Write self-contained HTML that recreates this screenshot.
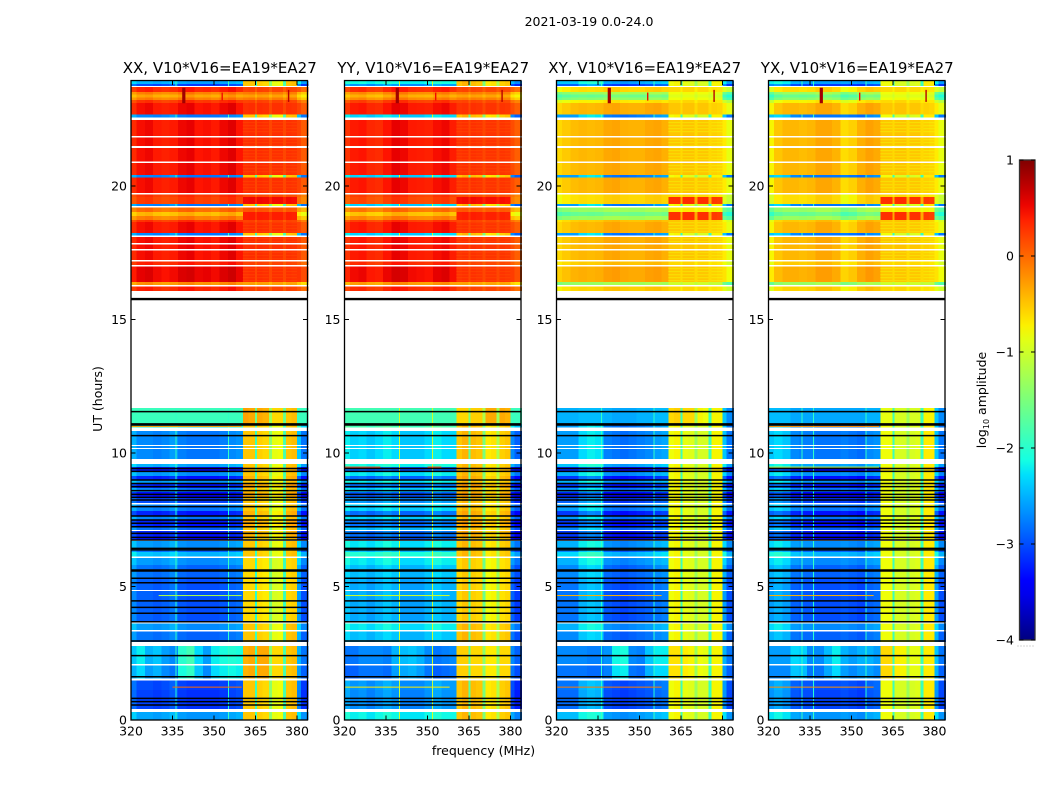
<!DOCTYPE html>
<html>
<head>
<meta charset="utf-8">
<title>2021-03-19 0.0-24.0</title>
<style>
html,body{margin:0;padding:0;background:#fff;}
svg{display:block;font-family:"DejaVu Sans","Liberation Sans",sans-serif;fill:#000;}
</style>
</head>
<body>
<svg id="figure" xmlns="http://www.w3.org/2000/svg" width="1050" height="800" viewBox="0 0 1050 800">
<defs><linearGradient id="jetGradient" x1="0" y1="1" x2="0" y2="0"></linearGradient></defs>
<text x="589" y="26" text-anchor="middle" font-size="12.5">2021-03-19 0.0-24.0</text>
<text x="483.5" y="755" text-anchor="middle" font-size="12.5">frequency (MHz)</text>
<text transform="translate(102,399) rotate(-90)" text-anchor="middle" font-size="12.5">UT (hours)</text>
<text transform="translate(986,400) rotate(-90)" text-anchor="middle" font-size="12.5">log<tspan font-size="8" dy="3">10</tspan><tspan dy="-3"> amplitude</tspan></text>
</svg>
<script>
// Channel bin edges (MHz)
const freqEdges = [320,322,325,328,331,334,337,340,343,346,349,352,355,358,360.4,362.5,364.8,365.5,367.5,369.8,370.9,373,375,376,378,380,381.5,384];
// Time row edges (UT hours, top to bottom)
const rowEdgeHours = [
 23.93,23.82,23.75,23.71,23.52,23.43,23.31,23.22,23.11,22.68,
 22.57,22.47,21.87,21.82,21.50,21.42,20.92,20.86,20.41,20.32,
 19.74,19.68,19.59,19.33,19.25,19.19,19.03,18.88,18.73,18.65,
 18.24,18.15,18.09,17.87,17.81,17.64,17.58,17.23,17.17,17.04,
 16.99,16.40,16.29,16.24,16.07,11.69,11.09,10.96,10.82,10.30,
 10.26,10.19,10.15,9.78,9.59,9.48,9.29,9.14,8.99,8.84,
 8.69,8.54,8.35,8.13,8.07,7.83,7.64,7.49,7.23,7.12,
 7.08,6.85,6.74,6.70,6.44,6.29,6.12,6.07,5.81,5.32,
 4.87,4.83,4.46,4.01,3.67,3.61,3.37,3.31,2.92,2.77,
 2.10,2.04,1.55,1.48,1.12,0.41,0.30,0];
// Row state: D day, N night, B night with bright patches, F flat band, W flagged (no data)
const rowStates = [
 "N","N","W","D","D","D","D","D","D","N",
 "W","D","W","D","W","D","W","D","N","D",
 "W","D","D","N","W","D","D","D","D","D",
 "N","W","D","W","D","W","D","W","D","W",
 "D","D","W","D","W","F","N","W","N","W",
 "N","W","N","W","N","N","N","N","N","N",
 "N","N","N","W","N","N","N","N","N","W",
 "N","N","W","N","N","N","W","N","N","N",
 "W","N","N","N","W","N","W","N","W","B",
 "W","B","W","N","N","W","N"];
// Per-row log-amplitude shift: parallel-hand left band / right band, cross-hand left / right
const parallelLeftShift = [
 .2,-.3,0,-.1,-.6,-.8,-.6,-.2,0,0,
 0,0,0,0,0,0,0,0,0,0,
 0,-.2,-.25,0,0,-.5,-.9,-.6,-.2,0,
 0,0,0,0,0,0,0,0,-.1,0,
 .08,-.7,0,-.1,0,0,.5,0,0,0,
 0,0,0,0,.2,-.6,.1,-.5,.1,-.5,
 0,-.6,-.3,0,0,-.5,0,-.5,-.1,0,
 -.5,-.6,0,.1,-.1,.3,0,.1,-.1,-.2,
 0,-.2,-.2,-.2,0,.1,0,-.1,0,0,
 0,-.1,0,-.3,-.35,0,.15];
const parallelRightShift = [
 0,0,0,-.1,-.4,-.6,-.4,-.1,0,0,
 0,0,0,0,0,0,0,0,0,0,
 0,-.15,.2,0,0,-.2,.1,.1,-.1,0,
 0,0,0,0,0,0,0,0,-.1,0,
 0,-.6,0,-.1,0,0,0,0,0,0,
 0,0,0,0,0,.1,0,.1,0,.2,
 0,.15,0,0,0,.1,0,.15,0,0,
 .1,0,0,0,0,0,0,-.1,-.1,-.1,
 0,-.1,-.1,-.1,0,0,0,0,0,0,
 0,0,0,0,0,0,0];
const crossLeftShift = [
 .2,-.3,0,-.2,-.9,-1.2,-1,-.3,0,0,
 0,0,0,0,0,0,0,0,0,0,
 0,-.2,-.2,0,0,-.9,-1.2,-.9,-.1,0,
 0,0,0,0,0,0,0,0,-.1,0,
 .05,-.9,0,-.15,0,0,0,0,0,0,
 0,0,0,0,.2,-.6,.1,-.5,.1,-.5,
 0,-.6,-.3,0,0,-.5,0,-.5,-.1,0,
 -.5,-.6,0,.1,-.1,.3,0,.1,-.1,-.2,
 0,-.2,-.2,-.2,0,.1,0,-.1,0,0,
 0,-.1,0,-.2,-.25,0,.15];
const crossRightShift = [
 0,0,0,-.1,-.3,-.4,-.3,-.1,0,0,
 0,0,0,0,0,0,0,0,0,0,
 0,-.1,.8,0,0,-.2,.8,.8,0,0,
 0,0,0,0,0,0,0,0,-.1,0,
 0,-.5,0,-.1,0,0,0,0,0,0,
 0,0,0,0,0,.1,0,0,0,0,
 0,0,0,0,0,0,0,0,0,0,
 0,0,0,0,0,0,0,0,0,0,
 0,0,0,0,0,0,0,0,0,0,
 0,0,0,0,0,0,0];
// Channel profiles, log10 amplitude, one value per channel bin
const xxDay = [.33,.48,.52,.42,.38,.42,.52,.55,.45,.47,.42,.52,.58,.45,.30,.32,.18,.32,.30,.18,.30,.30,.18,.30,.28,.20,.08];
const xxNight = [-2.5,-2.7,-2.7,-2.75,-2.7,-2.6,-2.75,-2.8,-2.8,-2.8,-2.8,-2.75,-2.7,-2.65,-.5,-.5,-1.9,-.55,-.6,-1.4,-.85,-.8,-1.8,-.5,-.45,-2.4,-2.8];
const xxPatch = [-2.4,-2.2,-2.5,-2.4,-2.6,-2.7,-2.0,-1.85,-2.3,-2.6,-2.2,-2.1,-2.05,-2.1,-.4,-.35,-1.9,-.35,-.35,-1.4,-.6,-.6,-1.8,-.5,-.45,-2.5,-2.8];
const xxFlat = [-1.9,-1.9,-1.9,-1.9,-1.9,-1.9,-1.9,-1.9,-1.9,-1.9,-1.9,-1.9,-1.9,-1.9,-.3,-.35,-1.6,-.35,-.4,-1.3,-.6,-.6,-1.6,-.5,-.45,-1.9,-1.9];
const yyDay = [.28,.42,.45,.35,.32,.45,.55,.52,.42,.40,.38,.48,.52,.40,.28,.30,.18,.30,.28,.18,.28,.28,.18,.28,.26,.15,.05];
const yyNight = [-2.2,-2.35,-2.3,-2.4,-2.3,-2.2,-2.3,-2.4,-2.4,-2.4,-2.3,-2.2,-2.3,-2.3,-.5,-.4,-1.7,-.45,-.5,-1.5,-.7,-.65,-1.2,-.55,-.5,-2.7,-2.9];
const yyPatch = [-2.8,-2.8,-2.7,-2.7,-2.7,-2.75,-2.5,-2.45,-2.4,-2.5,-2.7,-2.8,-2.75,-2.7,-.55,-.55,-1.7,-.6,-.6,-1.4,-.7,-.7,-1.4,-.6,-.6,-2.7,-2.9];
const yyFlat = [-1.85,-1.85,-1.85,-1.85,-1.85,-1.85,-1.85,-1.85,-1.85,-1.85,-1.85,-1.85,-1.85,-1.85,-.6,-.6,-1.5,-.55,-.55,-1.2,-.35,-.35,-1.3,-.35,-.4,-1.9,-1.9];
const xyDay = [-.6,-.52,-.45,-.42,-.44,-.42,-.34,-.32,-.38,-.4,-.4,-.34,-.32,-.38,-.5,-.5,-.6,-.48,-.48,-.6,-.5,-.5,-.6,-.55,-.58,-.7,-.85];
const xyNight = [-2.6,-2.6,-2.6,-2.3,-2.2,-2.25,-2.75,-2.8,-2.85,-2.8,-2.75,-2.7,-2.6,-2.55,-.8,-.75,-1.9,-.85,-.9,-1.3,-.95,-.95,-1.9,-.75,-.75,-2.4,-2.8];
const xyPatch = [-2.7,-2.7,-2.7,-2.7,-2.75,-2.75,-2.65,-2.15,-2.1,-2.7,-2.75,-2.4,-2.2,-2.2,-.65,-.65,-1.9,-.7,-.75,-1.3,-.8,-.85,-1.9,-.75,-.75,-2.5,-2.8];
const xyFlat = [-2.5,-2.5,-2.5,-2.45,-2.45,-2.45,-2.5,-2.55,-2.55,-2.55,-2.5,-2.5,-2.45,-2.45,-.6,-.55,-1.9,-.6,-.6,-1.3,-.75,-.8,-1.9,-.75,-.75,-2.4,-2.7];
const yxDay = [-.75,-.5,-.42,-.42,-.45,-.42,-.33,-.33,-.4,-.62,-.55,-.38,-.3,-.35,-.5,-.5,-.6,-.48,-.48,-.6,-.5,-.5,-.6,-.55,-.58,-.7,-.85];
const yxNight = [-2.4,-2.3,-2.4,-2.7,-2.75,-2.75,-2.8,-2.8,-2.8,-2.75,-2.8,-2.85,-2.7,-2.65,-.8,-.8,-1.9,-.95,-.95,-1.3,-.95,-.9,-1.9,-.7,-.7,-2.4,-2.8];
const yxPatch = [-2.6,-2.6,-2.6,-2.3,-2.35,-2.7,-2.7,-2.45,-2.2,-2.5,-2.6,-2.5,-2.5,-2.6,-.6,-.6,-1.9,-.7,-.75,-1.3,-.85,-.85,-1.9,-.7,-.7,-2.4,-2.8];
const yxFlat = [-2.45,-2.45,-2.45,-2.55,-2.55,-2.55,-2.55,-2.55,-2.55,-2.55,-2.55,-2.55,-2.5,-2.5,-.85,-.85,-1.9,-.95,-.95,-1.3,-.95,-.95,-1.9,-.75,-.75,-2.4,-2.7];
// Hours of fully black integrations
const blackLineHours = [15.75,15.78,11.55,11.05,11.09,10.65,9.42,9.31,8.99,8.86,8.74,8.59,8.45,8.34,8.24,7.99,7.64,7.49,7.37,7.24,6.99,6.84,6.74,6.43,6.37,5.58,5.62,5.31,5.14,4.46,4.22,4.00,3.68,2.96,2.41,1.62,0.81,0.69,0.56];
// Narrow interference bursts
const spikeFreqs = [338.8,353,377];
const spikeStartHours = [23.1,23.2,23.15];
const spikeEndHours = [23.68,23.5,23.6];
const spikeLevels = [.85,.5,.75];
// Persistent narrow channels at night, per panel
const xxRfiFreqs = [336,355];
const yyRfiFreqs = [339.7,351.7];
const xyRfiFreqs = [336,355];
const yxRfiFreqs = [332,336,355];
const rfiLevels = [-1.95,-1.0,-1.95,-1.95];
// Horizontal interference streaks
const streakPanels = [0,0,0,1,1,1,1,2,2,3,3,3,3];
const streakHours = [11.01,4.68,1.25,9.49,9.49,4.68,1.25,4.68,1.25,11.01,9.49,4.68,1.25];
const streakFreqStarts = [320,330,335,320,350,320,320,320,320,320,320,320,320];
const streakFreqEnds = [360,360,360,333,355,358,358,358,358,360,360,358,358];
const streakLevels = [-.3,-1.2,0,.2,.2,-1.0,-.7,-.4,-.1,-.2,-1.0,-.4,-.2];
// Fine daytime ripple in the high band
const rippleHours = [22.40,22.28,22.17,22.06,21.76,21.65,21.53,21.35,21.23,21.12,21.01,20.79,20.67,20.56,20.19,20.07,19.96,19.85,18.65,18.54,18.43,18.31,18.05,17.94,17.53,17.42,17.30,16.93,16.82,16.70,16.59,16.48];
const rippleLevels = [.12,.12,-.8,-.8];
const bandStarts = [360.4,365.5,370.9,376];
const bandEnds = [364.8,369.8,375,380];
// Axis tick labels
const freqTicks = [320,335,350,365,380];
const hourTicks = [0,5,10,15,20];
const colorbarTicks = [1,0,-1,-2,-3,-4];
const panelTitles = ["XX, V10*V16=EA19*EA27","YY, V10*V16=EA19*EA27","XY, V10*V16=EA19*EA27","YX, V10*V16=EA19*EA27"];
const panelKeys = ["xx","yy","xy","yx"];

const dayProfiles = [xxDay,yyDay,xyDay,yxDay];
const nightProfiles = [xxNight,yyNight,xyNight,yxNight];
const patchProfiles = [xxPatch,yyPatch,xyPatch,yxPatch];
const flatProfiles = [xxFlat,yyFlat,xyFlat,yxFlat];
const rfiFreqSets = [xxRfiFreqs,yyRfiFreqs,xyRfiFreqs,yxRfiFreqs];
const panelLefts = [131,344.5,556.5,768.5];
const panelWidth = 176.5;
const NS = "http://www.w3.org/2000/svg";
const svg = document.getElementById("figure");
const gradient = document.getElementById("jetGradient");

function xScale(left,f){return left+(f-320)/(383.8-320)*panelWidth;}
function yScale(h){return 720-h*26.7;}
function interp(points,t){
  for(let i=1;i<points.length;i++){
    if(t<=points[i][0]){
      const a=points[i-1],b=points[i];
      return a[1]+(b[1]-a[1])*(t-a[0])/(b[0]-a[0]);
    }
  }
  return points[points.length-1][1];
}
function jet(v){
  const t=Math.max(0,Math.min(1,(v+4)/5));
  const r=interp([[0,0],[.35,0],[.66,1],[.89,1],[1,.5]],t);
  const g=interp([[0,0],[.125,0],[.375,1],[.64,1],[.91,0],[1,0]],t);
  const b=interp([[0,.5],[.11,1],[.34,1],[.65,0],[1,0]],t);
  return "rgb("+Math.round(r*255)+","+Math.round(g*255)+","+Math.round(b*255)+")";
}
function shape(tag,attrs,parent){
  const el=document.createElementNS(NS,tag);
  for(const k in attrs){el.setAttribute(k,attrs[k]);}
  parent.appendChild(el);
  return el;
}
function isLeftBand(col){return col<14||col>=25;}
function isGapChannel(col){return col===16||col===19||col===22;}

panelKeys.forEach(function(key,p){
  const left=panelLefts[p];
  const right=left+panelWidth;
  const top=yScale(23.95);
  const bottom=yScale(0);
  const crossHand=p>=2;
  const leftShift=crossHand?crossLeftShift:parallelLeftShift;
  const rightShift=crossHand?crossRightShift:parallelRightShift;
  const group=shape("g",{},svg);
  
  

  rowStates.forEach(function(state,r){
    if(state==="W"){return;}
    const profile=state==="D"?dayProfiles[p]:(state==="B"?patchProfiles[p]:(state==="F"?flatProfiles[p]:nightProfiles[p]));
    const y0=yScale(rowEdgeHours[r]);
    const y1=yScale(rowEdgeHours[r+1]);
    profile.forEach(function(level,c){
      const x0=xScale(left,freqEdges[c]);
      const x1=xScale(left,freqEdges[c+1]);
      let shift=isLeftBand(c)?leftShift[r]:rightShift[r];
      if(isGapChannel(c)){shift=Math.min(shift,.25);}
      const cell=shape("rect",{x:x0,y:y0,width:x1-x0+.4,height:y1-y0,fill:jet(level+shift),"shape-rendering":"crispEdges"},group);
      
      
    });
    if(state!=="D"){
      rfiFreqSets[p].forEach(function(f){
        const burst=shape("rect",{x:xScale(left,f),y:y0,width:1,height:y1-y0,fill:jet(rfiLevels[p]+leftShift[r]*.3),"shape-rendering":"crispEdges"},group);
        
        
      });
    }
  });

  rippleHours.forEach(function(h){
    bandStarts.forEach(function(f,b){
      const ripple=shape("rect",{x:xScale(left,f),y:yScale(h),width:xScale(left,bandEnds[b])-xScale(left,f),height:1.2,fill:jet(rippleLevels[p]),"fill-opacity":.4},group);
      
      
    });
  });

  streakPanels.forEach(function(owner,i){
    if(owner!==p){return;}
    const streak=shape("rect",{x:xScale(left,streakFreqStarts[i]),y:yScale(streakHours[i]),width:xScale(left,streakFreqEnds[i])-xScale(left,streakFreqStarts[i]),height:1,fill:jet(streakLevels[i])},group);
    
    
  });

  spikeFreqs.forEach(function(f,i){
    const spike=shape("rect",{x:xScale(left,f)-.8,y:yScale(spikeEndHours[i]),width:i===0?3.2:1.4,height:yScale(spikeStartHours[i])-yScale(spikeEndHours[i]),fill:jet(spikeLevels[i])},group);
    
    
  });

  blackLineHours.forEach(function(h){
    const line=shape("line",{x1:left,x2:right,y1:yScale(h),y2:yScale(h),stroke:"#000","stroke-width":1.5},group);
    
    
  });

  const frame=shape("rect",{x:left,y:top,width:panelWidth,height:bottom-top,fill:"none",stroke:"#000","stroke-width":1.3},group);
  
  

  freqTicks.forEach(function(f){
    const x=xScale(left,f);
    const tickBottom=shape("line",{x1:x,x2:x,y1:bottom,y2:bottom-4.5,stroke:"#000","stroke-width":1},group);
    
    
    const tickTop=shape("line",{x1:x,x2:x,y1:top,y2:top+4.5,stroke:"#000","stroke-width":1},group);
    
    
    const label=shape("text",{x:x,y:735.5,"text-anchor":"middle","font-size":12.5},group);
    label.textContent=String(f);
    
    
  });

  hourTicks.forEach(function(h){
    const y=yScale(h);
    const tickLeft=shape("line",{x1:left,x2:left+4.5,y1:y,y2:y,stroke:"#000","stroke-width":1},group);
    
    
    const tickRight=shape("line",{x1:right,x2:right-4.5,y1:y,y2:y,stroke:"#000","stroke-width":1},group);
    
    
    const label=shape("text",{x:left-4,y:y+4.5,"text-anchor":"end","font-size":12.5},group);
    label.textContent=String(h);
    
    
  });

  const title=shape("text",{x:left+panelWidth/2+(p===2?0:.5),y:73,"text-anchor":"middle","font-size":15},group);
  title.textContent=panelTitles[p];
  
  
});

// Colorbar
function cbScale(v){return 640-(v+4)*96;}
for(let i=0;i<=32;i++){
  const stop=document.createElementNS(NS,"stop");
  stop.setAttribute("offset",i/32);
  stop.setAttribute("stop-color",jet(-4+5*i/32));
  gradient.appendChild(stop);
}
const cbGroup=shape("g",{},svg);


const cbFill=shape("rect",{x:1019.5,y:cbScale(1),width:15.5,height:cbScale(-4)-cbScale(1),fill:"url(#jetGradient)",stroke:"#333","stroke-width":1.3},cbGroup);


colorbarTicks.forEach(function(v){
  const y=cbScale(v);
  const t1=shape("line",{x1:1019.5,x2:1023.5,y1:y,y2:y,stroke:"#000","stroke-width":1},cbGroup);
  
  
  const t2=shape("line",{x1:1035,x2:1031,y1:y,y2:y,stroke:"#000","stroke-width":1},cbGroup);
  
  
  const label=shape("text",{x:1014,y:y+4.5,"text-anchor":"end","font-size":12.5},cbGroup);
  label.textContent=v<0?"\u2212"+Math.abs(v):String(v);
  
  
});
const cbDots=shape("line",{x1:1017.5,x2:1035,y1:646,y2:646,stroke:"#aaa","stroke-width":1,"stroke-dasharray":"1 2"},cbGroup);


</script>
</body>
</html>
